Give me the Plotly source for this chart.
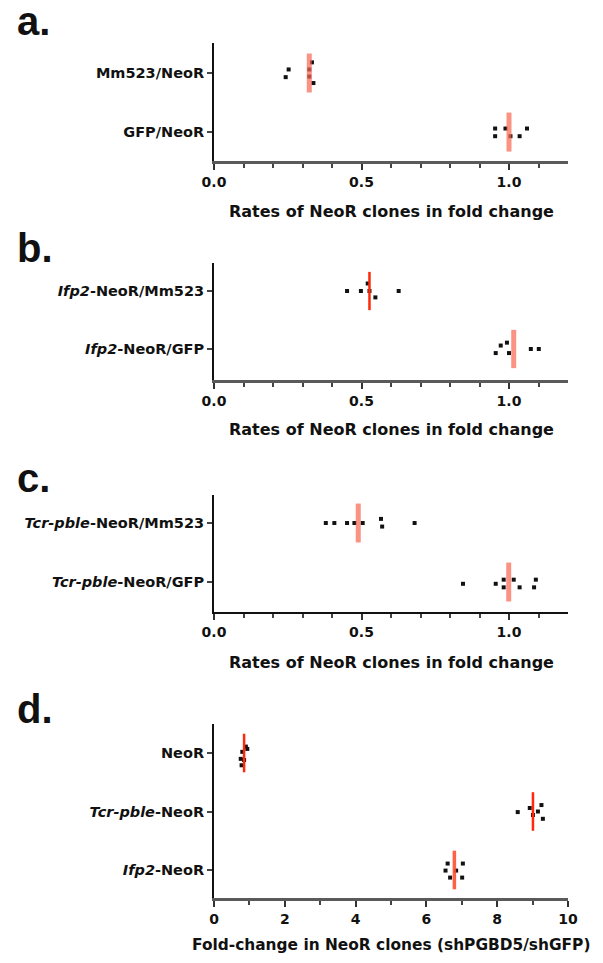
import plotly.graph_objects as go

# ---------------- data ----------------
# panel a
a_cats = ["Mm523/NeoR", "GFP/NeoR"]
a_vals = [[0.243, 0.253, 0.323, 0.323, 0.332, 0.337],
          [0.953, 0.953, 0.988, 1.005, 1.036, 1.061]]
a_jit = [[-0.07, 0.06, 0.06, -0.06, 0.18, -0.17],
         [0.06, -0.07, 0.06, -0.07, -0.07, 0.06]]
a_means = [0.323, 1.0]

# panel b
b_cats = ["<i>Ifp2</i>-NeoR/Mm523", "<i>Ifp2</i>-NeoR/GFP"]
b_vals = [[0.451, 0.498, 0.521, 0.527, 0.547, 0.626],
          [0.955, 0.972, 0.993, 1.0, 1.074, 1.101]]
b_jit = [[0.0, 0.0, 0.13, 0.0, -0.11, 0.0],
         [-0.07, 0.06, 0.11, -0.07, 0.0, 0.0]]
b_means = [0.527, 1.016]

# panel c
c_cats = ["<i>Tcr-pble</i>-NeoR/Mm523", "<i>Tcr-pble</i>-NeoR/GFP"]
c_vals = [[0.379, 0.408, 0.451, 0.476, 0.504, 0.566, 0.570, 0.680],
          [0.844, 0.955, 0.982, 0.982, 1.016, 1.036, 1.085, 1.091]]
c_jit = [[0.0, 0.0, 0.0, 0.0, 0.0, 0.07, -0.06, 0.0],
         [-0.03, -0.03, 0.04, -0.09, 0.04, -0.09, -0.09, 0.04]]
c_means = [0.489, 0.999]

# panel d
d_cats = ["NeoR", "<i>Tcr-pble</i>-NeoR", "<i>Ifp2</i>-NeoR"]
d_vals = [[0.755, 0.80, 0.90, 0.94, 0.78, 0.85],
          [8.58, 8.92, 9.01, 9.15, 9.25, 9.29],
          [6.60, 6.54, 6.67, 6.84, 7.01, 7.03]]
d_jit = [[-0.10, 0.02, 0.11, 0.07, -0.21, -0.12],
         [-0.01, 0.06, -0.06, 0.0, 0.11, -0.125],
         [0.11, -0.01, -0.13, -0.01, -0.13, 0.11]]
d_means = [0.85, 9.01, 6.79]

x_title_abc = "Rates of NeoR clones in fold change"
x_title_d = "Fold-change in NeoR clones (shPGBD5/shGFP)"
panel_letters = ["a.", "b.", "c.", "d."]

# ---------------- styles ----------------
PALE = dict(color="rgba(250,105,85,0.72)", width=5)
BRIGHT = dict(color="rgb(255,40,10)", width=2.5)
ORANGE = dict(color="rgba(255,80,50,0.9)", width=3.5)

OFF = 8  # page body margin
W, H = 603 - OFF, 963 - OFF
XL, XR = 214 - OFF, 568 - OFF


def py(v):
    return v - OFF


panels = [
    dict(cats=a_cats, vals=a_vals, jit=a_jit, means=a_means, styles=[PALE, PALE],
         top=43, bot=161, yr=[-0.49, 1.508], xr=[0, 1.2], title=x_title_abc, tsize=16,
         tpos=212, lpos=21, xline=dict(color="#5a5a5a", width=3)),
    dict(cats=b_cats, vals=b_vals, jit=b_jit, means=b_means, styles=[BRIGHT, PALE],
         top=263, bot=380, yr=[-0.534, 1.483], xr=[0, 1.2], title=x_title_abc, tsize=16,
         tpos=430, lpos=248, xline=dict(color="#5a5a5a", width=3)),
    dict(cats=c_cats, vals=c_vals, jit=c_jit, means=c_means, styles=[PALE, PALE],
         top=495, bot=612, yr=[-0.508, 1.475], xr=[0, 1.2], title=x_title_abc, tsize=16,
         tpos=662, lpos=478, xline=dict(color="#111", width=2)),
    dict(cats=d_cats, vals=d_vals, jit=d_jit, means=d_means, styles=[BRIGHT, BRIGHT, ORANGE],
         top=724, bot=898, yr=[-0.479, 2.496], xr=[0, 10], title=x_title_d, tsize=15.4,
         tpos=945, lpos=709, xline=dict(color="#5a5a5a", width=3)),
]

fig = go.Figure()
FONT = "DejaVu Sans, Liberation Sans, Arial"
annotations = []
layout_axes = {}

for k, p in enumerate(panels, start=1):
    xa = "x" if k == 1 else f"x{k}"
    ya = "y" if k == 1 else f"y{k}"
    n = len(p["cats"])
    positions = [n - 1 - i for i in range(n)]
    for i in range(n):
        pos = positions[i]
        fig.add_trace(go.Scatter(
            x=p["vals"][i], y=[pos + j for j in p["jit"][i]],
            mode="markers", xaxis=xa, yaxis=ya, showlegend=False,
            marker=dict(symbol="square", size=4, color="#111")))
    for i in range(n):
        pos = positions[i]
        m = p["means"][i]
        fig.add_trace(go.Scatter(
            x=[m, m], y=[pos - 0.33, pos + 0.33], mode="lines",
            xaxis=xa, yaxis=ya, showlegend=False, line=p["styles"][i]))

    if k < 4:
        tv = [0, 0.5, 1.0]
        tt = ["<b>0.0</b>", "<b>0.5</b>", "<b>1.0</b>"]
        minor_vals = [v / 10 for v in range(1, 12) if v not in (5, 10)]
    else:
        tv = [0, 2, 4, 6, 8, 10]
        tt = [f"<b>{v}</b>" for v in tv]
        minor_vals = [1, 3, 5, 7, 9]

    layout_axes["xaxis" if k == 1 else f"xaxis{k}"] = dict(
        domain=[XL / W, XR / W], anchor=ya, range=p["xr"],
        showline=True, linecolor=p["xline"]["color"], linewidth=p["xline"]["width"],
        ticks="outside", ticklen=6, tickwidth=2, tickcolor="#333",
        tickvals=tv, ticktext=tt,
        minor=dict(tickvals=minor_vals, ticks="outside", ticklen=4, tickwidth=2, tickcolor="#444"),
        showgrid=False, zeroline=False,
        tickfont=dict(family=FONT, size=14, color="#111"))
    layout_axes["yaxis" if k == 1 else f"yaxis{k}"] = dict(
        domain=[1 - py(p["bot"]) / H, 1 - py(p["top"]) / H], anchor=xa, range=p["yr"],
        showline=True, linecolor="#111", linewidth=2,
        ticks="outside", ticklen=5, tickwidth=2, tickcolor="#444",
        tickvals=positions, ticktext=[f"<b>{c}</b>" for c in p["cats"]],
        showgrid=False, zeroline=False,
        tickfont=dict(family=FONT, size=14.5, color="#111"))

    annotations.append(dict(
        text=f"<b>{p['title']}</b>", xref="paper", yref="paper",
        x=(XL + XR) / 2 / W, y=1 - py(p["tpos"]) / H, xanchor="center", yanchor="middle",
        showarrow=False, font=dict(family=FONT, size=p["tsize"], color="#111")))
    annotations.append(dict(
        text=f"<b>{panel_letters[k-1]}</b>", xref="paper", yref="paper",
        x=(15 - OFF) / W, y=1 - py(p["lpos"]) / H, xanchor="left", yanchor="middle",
        showarrow=False, font=dict(family="Liberation Sans, Arial", size=40, color="#111")))

fig.update_layout(
    width=W, height=H, margin=dict(l=0, r=0, t=0, b=0),
    paper_bgcolor="white", plot_bgcolor="white",
    template="none", annotations=annotations, **layout_axes)

fig.write_html("out.html")
